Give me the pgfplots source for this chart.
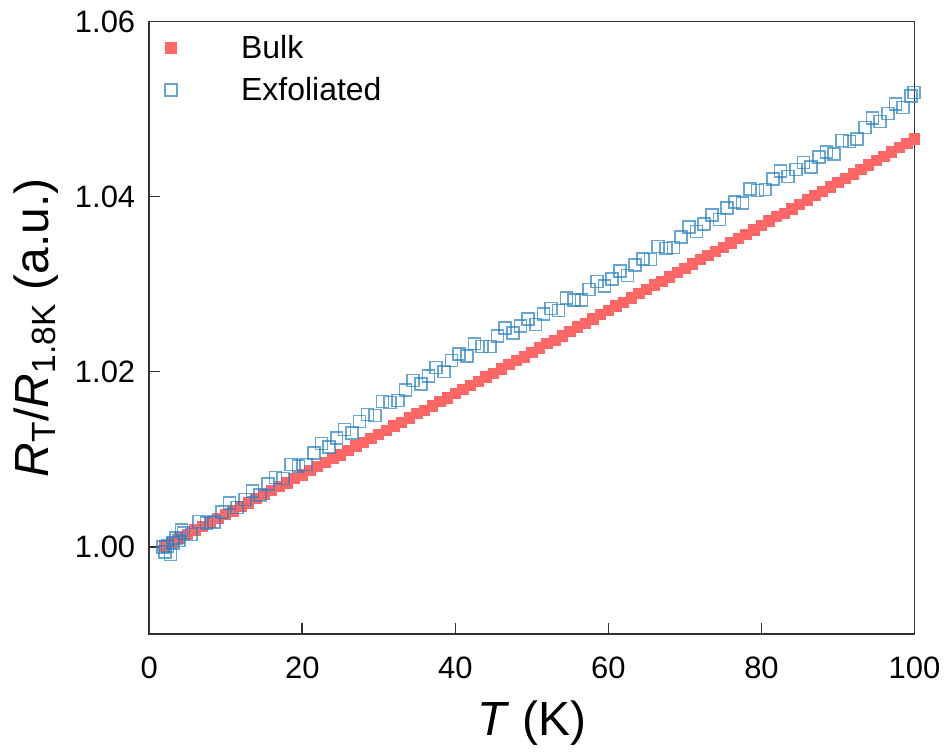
\documentclass[border=0pt]{standalone}
\usepackage{pgfplots}
\pgfplotsset{compat=1.18}
\usepackage{fontspec}
\setmainfont{Liberation Sans}
\definecolor{bulkred}{RGB}{255,102,102}
\definecolor{exfblue}{RGB}{40,130,195}
% legend image: one mark, then empty room before the text
\pgfplotsset{marklegend/.style={legend image code/.code={%
    \draw[##1] plot coordinates {(7.5pt,0pt)};
    \path (0pt,0pt) (40.5pt,0pt);}}}

\begin{document}
\begin{tikzpicture}
\begin{axis}[
    scale only axis,
    width=383.5pt, height=307pt,
    xmin=0, xmax=100, ymin=0.99, ymax=1.06,
    xtick={0,20,40,60,80,100},
    ytick={1.00,1.02,1.04,1.06},
    yticklabel style={xshift=-3.5pt, /pgf/number format/.cd, fixed, fixed zerofill, precision=2},
    /pgf/number format/assume math mode=true,
    tick pos=left, tick align=inside,
    major tick length=5.5pt,
    axis line style={line width=0.9pt, black!80},
    every tick/.style={line width=0.8pt, black!80},
    tick label style={font=\fontsize{15.5}{18}\selectfont},
    xticklabel style={yshift=-8pt},
    label style={font=\fontsize{24}{28}\selectfont},
    xlabel={\textit{T} (K)},
    ylabel={\textit{R}\textsubscript{T}/\textit{R}\textsubscript{1.8K} (a.u.)},
    xlabel style={yshift=-4pt},
    ylabel style={yshift=1.5pt},
    legend style={draw=none, fill=none, at={(0,1)}, anchor=north west,
        xshift=0pt, yshift=-2.5pt,
        font=\fontsize{16}{19}\selectfont, row sep=4pt},
    legend cell align=left,
]
\addplot[only marks, mark=square*, mark size=2.6pt,
    draw=none, mark options={draw=bulkred, fill=bulkred, line width=0pt},
    marklegend] coordinates {
(2,1.0001)(3,1.0005)(4,1.0010)(5,1.0014)(6,1.0019)(7,1.0023)(8,1.0028)(9,1.0032)(10,1.0037)
(11,1.0041)(12,1.0046)(13,1.0050)(14,1.0055)(15,1.0060)(16,1.0064)(17,1.0069)(18,1.0073)(19,1.0078)(20,1.0082)
(21,1.0087)(22,1.0092)(23,1.0096)(24,1.0101)(25,1.0105)(26,1.0110)(27,1.0115)(28,1.0119)(29,1.0124)(30,1.0128)
(31,1.0133)(32,1.0138)(33,1.0142)(34,1.0147)(35,1.0152)(36,1.0156)(37,1.0161)(38,1.0166)(39,1.0170)(40,1.0175)
(41,1.0180)(42,1.0184)(43,1.0189)(44,1.0194)(45,1.0198)(46,1.0203)(47,1.0208)(48,1.0213)(49,1.0217)(50,1.0222)
(51,1.0227)(52,1.0232)(53,1.0236)(54,1.0241)(55,1.0246)(56,1.0251)(57,1.0255)(58,1.0260)(59,1.0265)(60,1.0270)
(61,1.0275)(62,1.0279)(63,1.0284)(64,1.0289)(65,1.0294)(66,1.0299)(67,1.0303)(68,1.0308)(69,1.0313)(70,1.0318)
(71,1.0323)(72,1.0328)(73,1.0333)(74,1.0337)(75,1.0342)(76,1.0347)(77,1.0352)(78,1.0357)(79,1.0362)(80,1.0367)
(81,1.0372)(82,1.0377)(83,1.0381)(84,1.0386)(85,1.0391)(86,1.0396)(87,1.0401)(88,1.0406)(89,1.0411)(90,1.0416)
(91,1.0421)(92,1.0426)(93,1.0431)(94,1.0436)(95,1.0441)(96,1.0446)(97,1.0451)(98,1.0456)(99,1.0461)(100,1.0466)
};
\addlegendentry{Bulk}
\addplot[only marks, mark=square, mark size=3pt,
    mark options={draw=exfblue, draw opacity=0.7, line width=0.8pt},
    marklegend] coordinates {
(1.8,1.0000)(2.1,0.9994)(2.4,1.0001)(2.8,0.9991)(3.1,1.0004)(3.5,1.0010)(3.9,1.0007)(4.2,1.0019)
(4.5,1.0016)(5.5,1.0014)(6.5,1.0029)(7.5,1.0027)(8.5,1.0028)(9.5,1.0040)
(10.5,1.0050)(11.5,1.0045)(12.5,1.0054)(13.5,1.0064)(14.5,1.0059)(15.5,1.0072)(16.5,1.0079)(17.5,1.0078)(18.5,1.0094)(19.5,1.0092)
(20.5,1.0094)(21.5,1.0107)(22.5,1.0118)(23.5,1.0114)(24.5,1.0124)(25.5,1.0134)(26.5,1.0130)(27.5,1.0143)(28.5,1.0151)(29.5,1.0150)
(30.5,1.0166)(31.5,1.0165)(32.5,1.0167)(33.5,1.0179)(34.5,1.0190)(35.5,1.0186)(36.5,1.0195)(37.5,1.0205)(38.5,1.0200)(39.5,1.0213)
(40.5,1.0220)(41.5,1.0218)(42.5,1.0232)(43.5,1.0229)(44.5,1.0229)(45.5,1.0241)(46.5,1.0250)(47.5,1.0244)(48.5,1.0252)(49.5,1.0260)
(50.5,1.0254)(51.5,1.0266)(52.5,1.0272)(53.5,1.0270)(54.5,1.0284)(55.5,1.0282)(56.5,1.0282)(57.5,1.0294)(58.5,1.0303)(59.5,1.0298)
(60.5,1.0306)(61.5,1.0315)(62.5,1.0310)(63.5,1.0322)(64.5,1.0329)(65.5,1.0328)(66.5,1.0343)(67.5,1.0341)(68.5,1.0342)(69.5,1.0354)
(70.5,1.0365)(71.5,1.0360)(72.5,1.0369)(73.5,1.0379)(74.5,1.0374)(75.5,1.0387)(76.5,1.0394)(77.5,1.0393)(78.5,1.0409)(79.5,1.0407)
(80.5,1.0408)(81.5,1.0420)(82.5,1.0429)(83.5,1.0423)(84.5,1.0431)(85.5,1.0439)(86.5,1.0434)(87.5,1.0445)(88.5,1.0451)(89.5,1.0449)
(90.5,1.0464)(91.5,1.0463)(92.5,1.0466)(93.5,1.0479)(94.5,1.0490)(95.5,1.0486)(96.5,1.0495)(97.5,1.0506)(98.5,1.0502)(99.5,1.0515)
(99.9,1.0519)
};
\addlegendentry{Exfoliated}
\end{axis}
% a little extra white margin, as in the reference
\path ([xshift=-3.5pt,yshift=2pt]current bounding box.north west);
\end{tikzpicture}
\end{document}
